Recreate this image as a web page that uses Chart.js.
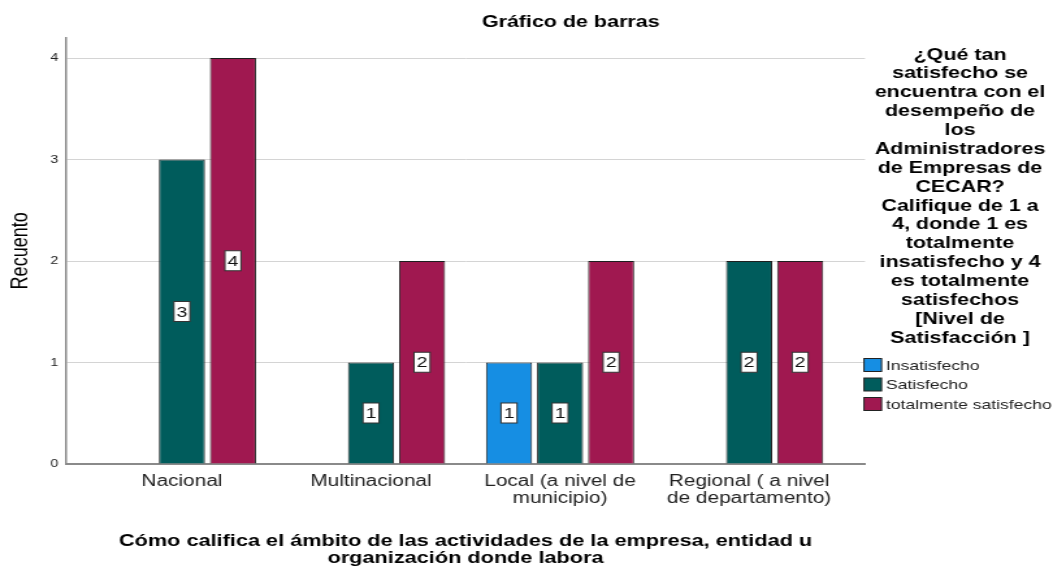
<!DOCTYPE html>
<html lang="es">
<head>
<meta charset="utf-8">
<title>Gráfico de barras</title>
<script src="https://cdn.jsdelivr.net/npm/chart.js@4.4.1/dist/chart.umd.min.js"></script>
<style>
  html, body { margin: 0; padding: 0; background: #fff; overflow: hidden; }
  /* the reference output is stretched sideways, so draw narrower and stretch it */
  #wrap { width: 814px; height: 567px; transform: scaleX(1.3); transform-origin: 0 0; }
</style>
</head>
<body>
<div id="wrap"><canvas id="chart"></canvas></div>
<script>
// --- data ---
const categories = ['Nacional', 'Multinacional', ['Local (a nivel de', 'municipio)'], ['Regional ( a nivel', 'de departamento)']];
const seriesNames = ['Insatisfecho', 'Satisfecho', 'totalmente satisfecho'];
const insatisfecho = [0, 0, 1, 0];
const satisfecho = [3, 1, 1, 2];
const totalmente = [4, 2, 2, 2];
const yTicks = [0, 1, 2, 3, 4];

const xTitle = ['Cómo califica el ámbito de las actividades de la empresa, entidad u', 'organización donde labora'];
const legendTitle = ['¿Qué tan', 'satisfecho se', 'encuentra con el', 'desempeño de', 'los',
  'Administradores', 'de Empresas de', 'CECAR?', 'Califique de 1 a', '4, donde 1 es', 'totalmente',
  'insatisfecho y 4', 'es totalmente', 'satisfechos', '[Nivel de', 'Satisfacción ]'];

const FONT = "'Liberation Sans', Arial, sans-serif";
const toPoints = arr => arr.map((v, i) => ({ x: i, y: v }));

// white boxes with the count in the middle of each bar
const valueBoxes = {
  id: 'valueBoxes',
  afterDatasetsDraw(chart) {
    const ctx = chart.ctx;
    ctx.save();
    ctx.font = '15px ' + FONT;
    ctx.textAlign = 'center';
    ctx.textBaseline = 'middle';
    chart.data.datasets.forEach((ds, di) => {
      chart.getDatasetMeta(di).data.forEach((bar, i) => {
        const v = ds.data[i].y;
        if (!v) return;
        const txt = String(v);
        const cy = (bar.y + bar.base) / 2;
        const w = ctx.measureText(txt).width + 4;
        const h = 20;
        ctx.fillStyle = '#fff';
        ctx.fillRect(bar.x - w / 2, cy - h / 2, w, h);
        ctx.strokeStyle = '#333';
        ctx.lineWidth = 1;
        ctx.strokeRect(bar.x - w / 2, cy - h / 2, w, h);
        ctx.fillStyle = '#111';
        ctx.fillText(txt, bar.x, cy + 1);
      });
    });
    ctx.restore();
  }
};

// chart title + legend with its long title on the right
const sideLegend = {
  id: 'sideLegend',
  afterDraw(chart) {
    const ctx = chart.ctx;
    ctx.save();
    ctx.fillStyle = '#000';
    ctx.textAlign = 'center';
    ctx.textBaseline = 'middle';
    ctx.font = 'bold 16.5px ' + FONT;
    ctx.fillText('Gráfico de barras', 439, 22);
    legendTitle.forEach((line, i) => ctx.fillText(line, 738.5, 55 + i * 18.87));

    ctx.textAlign = 'left';
    ctx.font = '13.5px ' + FONT;
    chart.data.datasets.forEach((ds, i) => {
      const y = 365 + i * 19.5;
      ctx.fillStyle = ds.backgroundColor;
      ctx.fillRect(664.6, y - 6.5, 13.5, 13);
      ctx.strokeStyle = '#222';
      ctx.lineWidth = 1;
      ctx.strokeRect(664.6, y - 6.5, 13.5, 13);
      ctx.fillStyle = '#222';
      ctx.fillText(ds.label, 681.5, y + 1);
    });
    ctx.restore();
  }
};

new Chart(document.getElementById('chart'), {
  type: 'bar',
  data: {
    datasets: [
      { label: seriesNames[0], data: toPoints(insatisfecho), backgroundColor: '#168ee3' },
      { label: seriesNames[1], data: toPoints(satisfecho), backgroundColor: '#005c5c' },
      { label: seriesNames[2], data: toPoints(totalmente), backgroundColor: '#a01850' }
    ]
  },
  options: {
    responsive: true,
    maintainAspectRatio: false,
    animation: false,
    layout: { padding: { top: 37.7, right: 148.6, bottom: 0, left: 0 } },
    datasets: {
      bar: { categoryPercentage: 0.81, barPercentage: 0.903, borderColor: '#1e1e1e', borderWidth: 1 }
    },
    plugins: {
      legend: { display: false },
      title: { display: false },
      tooltip: { enabled: false }
    },
    scales: {
      x: {
        type: 'linear',
        min: -0.613,
        max: 3.613,
        offset: false,
        afterBuildTicks: s => { s.ticks = categories.map((c, i) => ({ value: i })); },
        afterFit: s => { s.height = 103; },
        grid: { drawOnChartArea: false, drawTicks: false },
        border: { color: '#8a8a8a', width: 2 },
        ticks: {
          padding: 9,
          color: '#222',
          autoSkip: false,
          maxRotation: 0,
          font: { family: FONT, size: 16, lineHeight: 1.05 },
          callback: v => categories[v]
        },
        title: {
          display: true,
          text: xTitle,
          color: '#000',
          padding: { top: 0, bottom: 0 },
          font: { family: FONT, size: 16.7, weight: 'bold', lineHeight: 1.03 }
        }
      },
      y: {
        min: 0,
        max: 4.2,
        afterBuildTicks: s => { s.ticks = yTicks.map(v => ({ value: v })); },
        afterFit: s => { s.width = 50.8; },
        grid: { color: '#d4d4d4', lineWidth: 1, drawTicks: false },
        border: { color: '#8a8a8a', width: 1.5 },
        ticks: { padding: 6, color: '#222', font: { family: FONT, size: 11 } },
        title: {
          display: true,
          text: 'Recuento',
          color: '#000',
          padding: { top: 5, bottom: 0 },
          font: { family: FONT, size: 18 }
        }
      }
    }
  },
  plugins: [valueBoxes, sideLegend]
});
</script>
</body>
</html>
